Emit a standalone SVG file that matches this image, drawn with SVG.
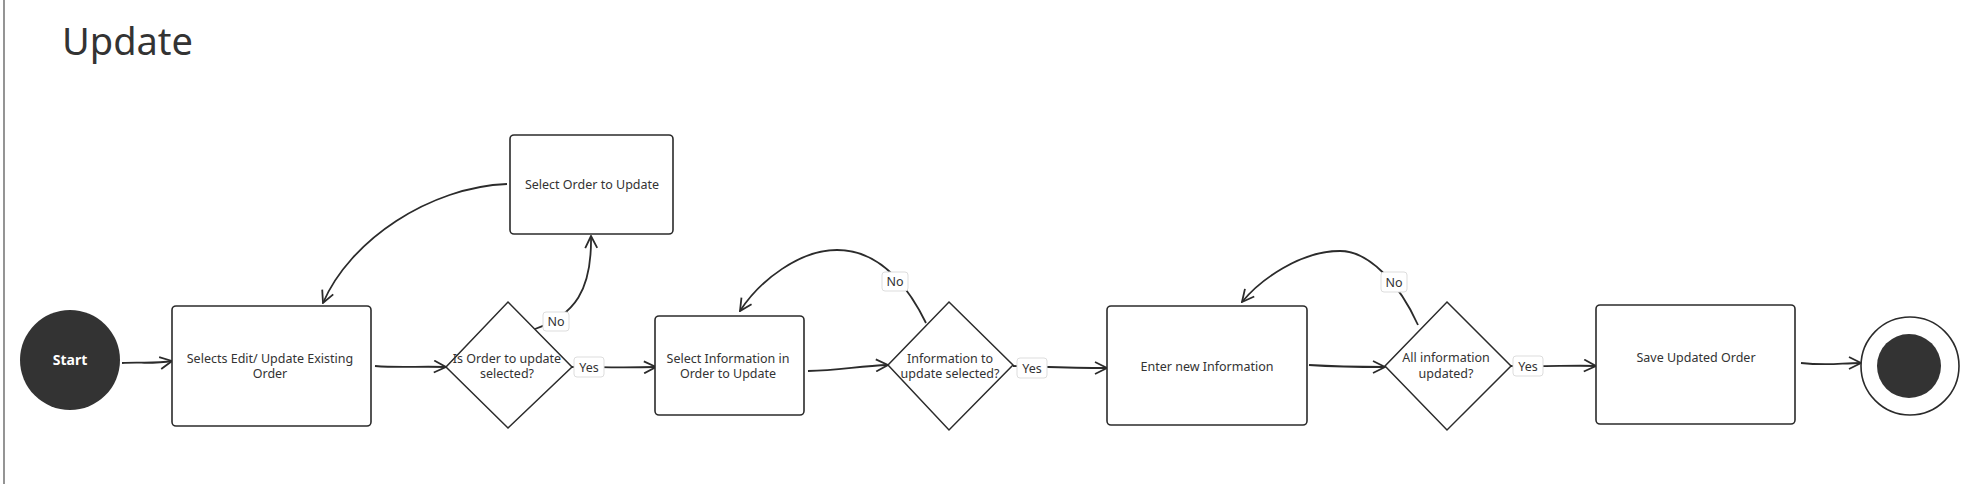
<svg xmlns="http://www.w3.org/2000/svg" width="1981" height="484" viewBox="0 0 1981 484">
<style>
.box{fill:#fff;stroke:#2b2b2b;stroke-width:1.6}
.dia{fill:#fff;stroke:#2b2b2b;stroke-width:1.5}
.t{font-family:"Noto Sans","Liberation Sans",sans-serif;font-size:12.5px;fill:#333;text-anchor:middle;dominant-baseline:central}
.c{fill:none;stroke:#2b2b2b;stroke-width:1.8;marker-end:url(#ah)}
.lb{fill:#fff;stroke:#ddd;stroke-width:1}
</style>
<defs>
<marker id="ah" viewBox="0 0 14 14" refX="13" refY="7" markerWidth="14" markerHeight="14" markerUnits="userSpaceOnUse" orient="auto">
<path d="M1,1 L13,7 L1,13" fill="none" stroke="#2b2b2b" stroke-width="1.8"/>
</marker>
</defs>
<rect width="1981" height="484" fill="#fff"/>
<line x1="4" y1="0" x2="4" y2="484" stroke="#7a7a7a" stroke-width="1.6"/>
<text x="62" y="55" font-family="Noto Sans, Liberation Sans, sans-serif" font-size="38" fill="#333">Update</text>

<g id="connectors">
<path class="c" d="M122,363 C140,362 155,364 172,361"/>
<path class="c" d="M375,366 C400,368 420,366 446,367"/>
<path class="c" d="M535,329 C575,315 592,290 591,236"/>
<path class="c" d="M507,184 C430,187 350,240 323,303"/>
<path class="c" d="M572,367 C600,367 620,368 656,367"/>
<path class="c" d="M808,371 C840,370 860,366 888,365"/>
<path class="c" d="M926,323 C900,270 870,250 837,250 C800,250 760,280 740,311"/>
<path class="c" d="M1013,366 C1050,367 1070,368 1107,368"/>
<path class="c" d="M1309,365 C1340,367 1360,367 1385,367"/>
<path class="c" d="M1418,325 C1400,285 1370,251 1340,251 C1300,251 1260,280 1242,302"/>
<path class="c" d="M1511,366 C1550,367 1570,365 1596,366"/>
<path class="c" d="M1801,363 C1830,366 1840,363 1861,363"/>
<rect class="lb" x="543" y="312" width="26" height="19" rx="3"/>
<text class="t" x="556" y="321.5">No</text>
<rect class="lb" x="574" y="357" width="30" height="20" rx="3"/>
<text class="t" x="589" y="367">Yes</text>
<rect class="lb" x="882" y="272" width="26" height="19" rx="3"/>
<text class="t" x="895" y="281.5">No</text>
<rect class="lb" x="1017" y="358" width="30" height="20" rx="3"/>
<text class="t" x="1032" y="368">Yes</text>
<rect class="lb" x="1381" y="272" width="26" height="20" rx="3"/>
<text class="t" x="1394" y="282">No</text>
<rect class="lb" x="1513" y="356" width="30" height="20" rx="3"/>
<text class="t" x="1528" y="366">Yes</text>
</g>

<g id="start">
<circle cx="70" cy="360" r="50" fill="#333"/>
<text class="t" x="70" y="359" style="fill:#fff;font-weight:bold;font-size:14px">Start</text>
</g>
<g id="selects-edit">
<rect class="box" x="172" y="306" width="199" height="120" rx="4"/>
<text class="t" x="270" y="358">Selects Edit/ Update Existing</text>
<text class="t" x="270" y="373">Order</text>
</g>
<g id="select-order">
<rect class="box" x="510" y="135" width="163" height="99" rx="4"/>
<text class="t" x="592" y="184">Select Order to Update</text>
</g>
<g id="is-order-selected">
<polygon class="dia" points="508,302 572,367 508,428 446,367"/>
<text class="t" x="507" y="358">Is Order to update</text>
<text class="t" x="507" y="373">selected?</text>
</g>
<g id="select-information">
<rect class="box" x="655" y="316" width="149" height="99" rx="4"/>
<text class="t" x="728" y="358">Select Information in</text>
<text class="t" x="728" y="373">Order to Update</text>
</g>
<g id="information-selected">
<polygon class="dia" points="949,302 1013,365 949,430 888,365"/>
<text class="t" x="950" y="358">Information to</text>
<text class="t" x="950" y="373">update selected?</text>
</g>
<g id="enter-information">
<rect class="box" x="1107" y="306" width="200" height="119" rx="4"/>
<text class="t" x="1207" y="366">Enter new Information</text>
</g>
<g id="all-updated">
<polygon class="dia" points="1447,302 1511,366 1447,430 1385,366"/>
<text class="t" x="1446" y="357">All information</text>
<text class="t" x="1446" y="373">updated?</text>
</g>
<g id="save-order">
<rect class="box" x="1596" y="305" width="199" height="119" rx="4"/>
<text class="t" x="1696" y="357">Save Updated Order</text>
</g>
<g id="end">
<circle cx="1910" cy="366" r="49" fill="#fff" stroke="#2b2b2b" stroke-width="1.6"/>
<circle cx="1909" cy="366" r="32" fill="#333"/>
</g>
</svg>
